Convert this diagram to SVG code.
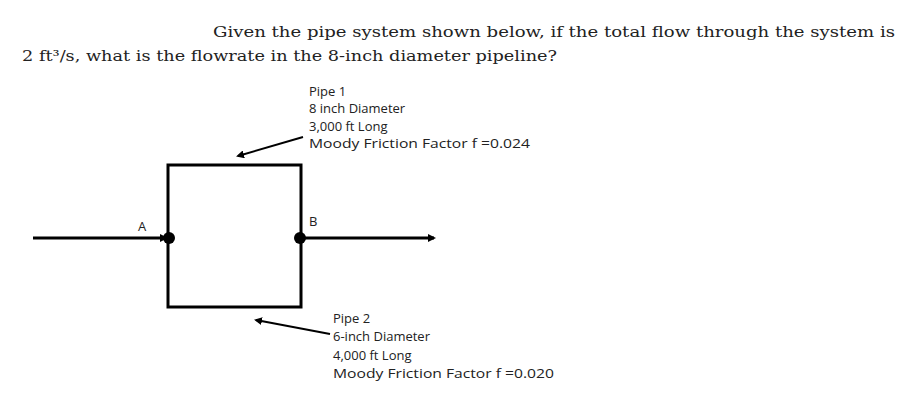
<svg xmlns="http://www.w3.org/2000/svg" width="908" height="413" viewBox="0 0 908 413">
<style>
.t{font-family:"DejaVu Serif",serif;font-size:14px;fill:#222}
.l{font-family:"Open Sans","Liberation Sans",sans-serif;font-size:13px;fill:#222}
.p{stroke:#000;stroke-width:3;fill:none}
.a{stroke:#000;stroke-width:2;fill:none}
</style>
<defs>
<marker id="ah" markerWidth="8" markerHeight="8" refX="6" refY="4" orient="auto" markerUnits="userSpaceOnUse"><path d="M0,0 L8,4 L0,8 Z" fill="#000"/></marker>
</defs>
<rect width="908" height="413" fill="#fff"/>
<text class="t" x="213" y="37" textLength="682" lengthAdjust="spacingAndGlyphs">Given the pipe system shown below, if the total flow through the system is</text>
<text class="t" x="22" y="61" textLength="535" lengthAdjust="spacingAndGlyphs">2 ft³/s, what is the flowrate in the 8-inch diameter pipeline?</text>
<g id="connectors">
<line class="p" x1="33" y1="238" x2="166" y2="238" marker-end="url(#ah)"/>
<line class="p" x1="301" y1="238" x2="434" y2="238" marker-end="url(#ah)"/>
<line class="a" x1="303" y1="137" x2="238" y2="156" marker-end="url(#ah)"/>
<line class="a" x1="330" y1="334" x2="256" y2="320" marker-end="url(#ah)"/>
</g>
<g id="loop"><rect class="p" x="168" y="165" width="133" height="142"/></g>
<g id="nodeA"><circle cx="169" cy="238" r="6" fill="#000"/><text class="l" x="138" y="231">A</text></g>
<g id="nodeB"><circle cx="300" cy="238" r="6" fill="#000"/><text class="l" x="309" y="226">B</text></g>
<g id="pipe1"><text class="l" x="309" y="96">Pipe 1</text><text class="l" x="309" y="113">8 inch Diameter</text><text class="l" x="309" y="131">3,000 ft Long</text><text class="l" x="309" y="148" textLength="221" lengthAdjust="spacingAndGlyphs">Moody Friction Factor f =0.024</text></g>
<g id="pipe2"><text class="l" x="333" y="323">Pipe 2</text><text class="l" x="333" y="341">6-inch Diameter</text><text class="l" x="333" y="360">4,000 ft Long</text><text class="l" x="333" y="378" textLength="221" lengthAdjust="spacingAndGlyphs">Moody Friction Factor f =0.020</text></g>
</svg>
